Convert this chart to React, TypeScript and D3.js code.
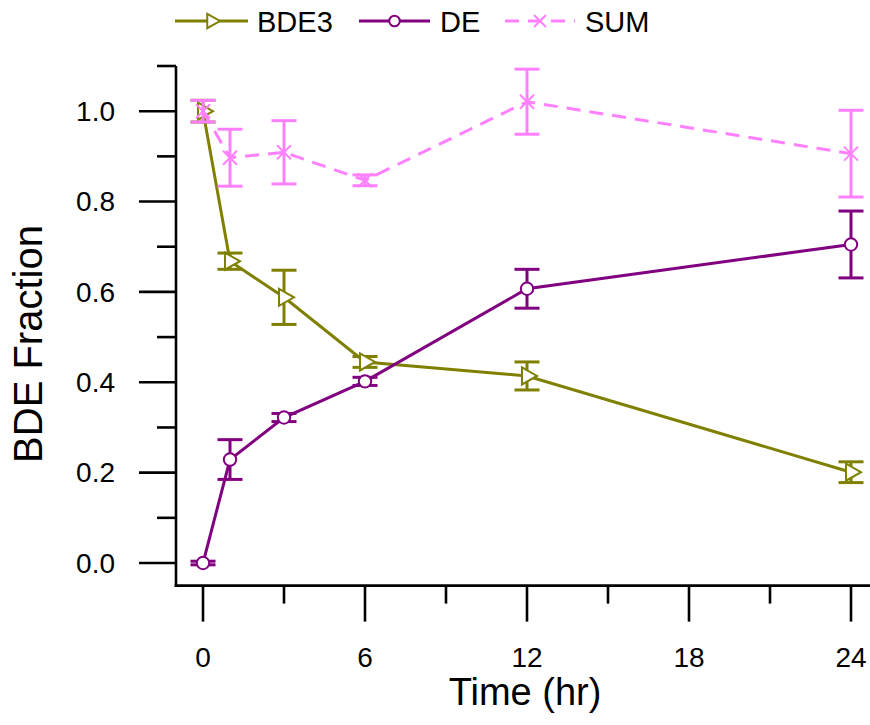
import React from "react";
import * as d3 from "d3";

// Sampling times (hr) and measured fractions with their error half-widths
const times = [0, 1, 3, 6, 12, 24];
const bde3 = [1.0, 0.668, 0.588, 0.445, 0.414, 0.201];
const bde3Err = [0.024, 0.018, 0.06, 0.012, 0.031, 0.023];
const de = [0.0, 0.229, 0.322, 0.402, 0.607, 0.705];
const deErr = [0.004, 0.044, 0.009, 0.009, 0.043, 0.074];
const sum = [1.0, 0.897, 0.909, 0.847, 1.021, 0.906];
const sumErr = [0.024, 0.063, 0.07, 0.012, 0.072, 0.096];

const xMajorTicks = [0, 6, 12, 18, 24];
const xMinorTicks = [3, 9, 15, 21];
const yMajorTicks = [0, 0.2, 0.4, 0.6, 0.8, 1.0];
const yMinorTicks = [0.1, 0.3, 0.5, 0.7, 0.9, 1.1];

const seriesNames = ["BDE3", "DE", "SUM"];

const OLIVE = "#808000";
const PURPLE = "#800080";
const PINK = "#ff80ff";
const FONT = "'Liberation Sans', Arial, Helvetica, sans-serif";

const W = 870;
const H = 725;

const x = d3.scaleLinear().domain([-1, 24]).range([176, 851]);
const y = d3.scaleLinear().domain([-0.05, 1.1]).range([585.6, 66]);

type Marker = "tri" | "circle" | "x";

function MarkerShape({ kind, cx, cy, color, scale = 1 }: { kind: Marker; cx: number; cy: number; color: string; scale?: number }) {
  if (kind === "tri") {
    // centroid-centred right-pointing triangle
    const p = [
      [-5 * scale, -8.5 * scale],
      [10 * scale, 0],
      [-5 * scale, 8.5 * scale],
    ]
      .map(([a, b]) => `${cx + a},${cy + b}`)
      .join(" ");
    return <polygon points={p} fill="white" stroke={color} strokeWidth={2} />;
  }
  if (kind === "circle") {
    return <circle cx={cx} cy={cy} r={6.2 * scale} fill="white" stroke={color} strokeWidth={2} />;
  }
  const s = 7 * scale;
  return (
    <g stroke={color} strokeWidth={2}>
      <line x1={cx - s} y1={cy - s} x2={cx + s} y2={cy + s} />
      <line x1={cx - s} y1={cy + s} x2={cx + s} y2={cy - s} />
    </g>
  );
}

function Series({ vals, errs, color, marker, dash }: { vals: number[]; errs: number[]; color: string; marker: Marker; dash?: string }) {
  const line = d3
    .line<number>()
    .x((_, i) => x(times[i]))
    .y((v) => y(v));
  return (
    <g>
      <path d={line(vals) || ""} fill="none" stroke={color} strokeWidth={3} strokeDasharray={dash} />
      {vals.map((v, i) => {
        const cx = x(times[i]);
        const hi = y(v + errs[i]);
        const lo = y(v - errs[i]);
        return (
          <g key={"e" + i} stroke={color} strokeWidth={3}>
            <line x1={cx} x2={cx} y1={hi} y2={lo} />
            <line x1={cx - 12.5} x2={cx + 12.5} y1={hi} y2={hi} />
            <line x1={cx - 12.5} x2={cx + 12.5} y1={lo} y2={lo} />
          </g>
        );
      })}
      {vals.map((v, i) => (
        <MarkerShape key={"m" + i} kind={marker} cx={x(times[i])} cy={y(v)} color={color} />
      ))}
    </g>
  );
}

export default function App() {
  const x0 = x(-1);
  const yBase = y(-0.05);
  const legend = [
    { name: seriesNames[0], color: OLIVE, marker: "tri" as Marker, x1: 175, x2: 248, tx: 257, dash: undefined },
    { name: seriesNames[1], color: PURPLE, marker: "circle" as Marker, x1: 359, x2: 430, tx: 440, dash: undefined },
    { name: seriesNames[2], color: PINK, marker: "x" as Marker, x1: 505, x2: 575, tx: 585, dash: "14 9" },
  ];
  return (
    <svg
      width={W}
      height={H}
      style={{ position: "absolute", left: 0, top: 0, background: "white" }}
      fontFamily={FONT}
    >
      <rect width={W} height={H} fill="white" />

      {/* Axes */}
      <g stroke="black" strokeWidth={2.6} strokeLinecap="butt">
        <line x1={x0} x2={x0} y1={y(1.1)} y2={yBase + 1.3} />
        <line x1={x0 - 1.3} x2={W} y1={yBase} y2={yBase} />
        {yMajorTicks.map((t) => (
          <line key={"ym" + t} x1={x0 - 37} x2={x0} y1={y(t)} y2={y(t)} />
        ))}
        {yMinorTicks.map((t) => (
          <line key={"yn" + t} x1={x0 - 19} x2={x0} y1={y(t)} y2={y(t)} />
        ))}
        {xMajorTicks.map((t) => (
          <line key={"xm" + t} x1={x(t)} x2={x(t)} y1={yBase} y2={yBase + 36} />
        ))}
        {xMinorTicks.map((t) => (
          <line key={"xn" + t} x1={x(t)} x2={x(t)} y1={yBase} y2={yBase + 18} />
        ))}
      </g>

      {/* Tick labels */}
      <g fontSize={28} fill="black">
        {yMajorTicks.map((t) => (
          <text key={"yl" + t} x={115} y={y(t)} dy="0.35em" textAnchor="end">
            {d3.format(".1f")(t)}
          </text>
        ))}
        {xMajorTicks.map((t) => (
          <text key={"xl" + t} x={x(t)} y={667} textAnchor="middle">
            {t}
          </text>
        ))}
      </g>

      {/* Axis titles */}
      <text x={525} y={705} fontSize={38} textAnchor="middle" fill="black">
        Time (hr)
      </text>
      <text transform="translate(42,344) rotate(-90)" fontSize={40} textAnchor="middle" fill="black">
        BDE Fraction
      </text>

      {/* Data */}
      <Series vals={bde3} errs={bde3Err} color={OLIVE} marker="tri" />
      <Series vals={de} errs={deErr} color={PURPLE} marker="circle" />
      <Series vals={sum} errs={sumErr} color={PINK} marker="x" dash="14 9" />

      {/* Legend */}
      {legend.map((l) => (
        <g key={l.name}>
          <line x1={l.x1} x2={l.x2} y1={21} y2={21} stroke={l.color} strokeWidth={3} strokeDasharray={l.dash} />
          <MarkerShape kind={l.marker} cx={(l.x1 + l.x2) / 2} cy={21} color={l.color} scale={0.85} />
          <text x={l.tx} y={32} fontSize={29} fill="black">
            {l.name}
          </text>
        </g>
      ))}
    </svg>
  );
}
